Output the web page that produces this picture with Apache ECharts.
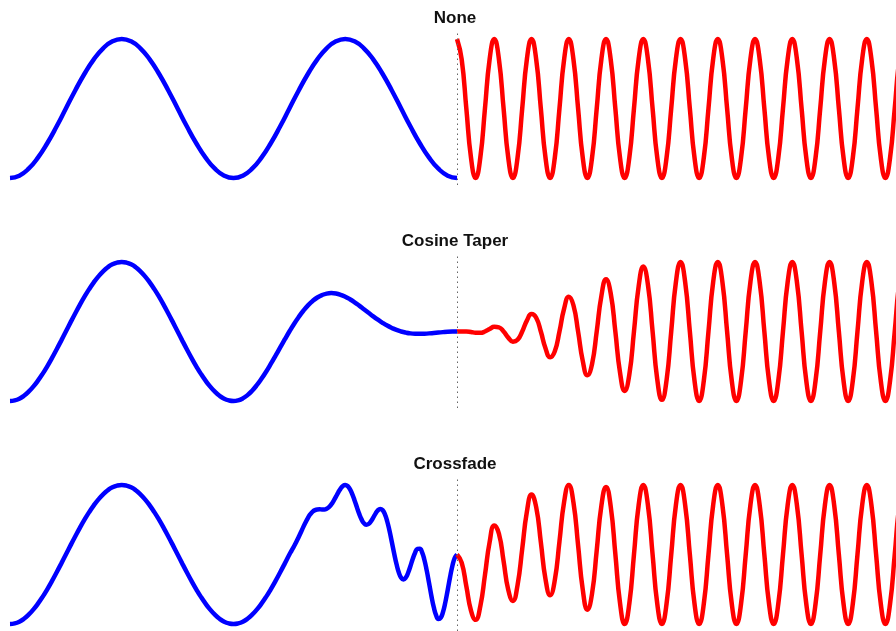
<!DOCTYPE html>
<html>
<head>
<meta charset="utf-8">
<script src="https://cdn.jsdelivr.net/npm/echarts@6/dist/echarts.min.js"></script>
<style>
  html, body { margin: 0; padding: 0; background: #ffffff; }
  #chart { width: 896px; height: 631px; }
</style>
</head>
<body>
<div id="chart"></div>
<script>
// Splice demo: a slow wave (blue) joined at t = 2 to a fast wave (red),
// shown with no blending, a cosine taper, and a linear crossfade.

const panelTitles = ['None', 'Cosine Taper', 'Crossfade'];
const spliceTime = 2;
const blendStart = 1.25;   // where the crossfade begins on the slow side
const coarseStep = 1 / 24;
const fineStep = 1 / 48;
const blendStep = 1 / 96;

// --- None ---
const blueNone = [
  -1, -0.966, -0.866, -0.707, -0.5, -0.259, 0, 0.259, 0.5, 0.707, 0.866, 0.966,
  1, 0.966, 0.866, 0.707, 0.5, 0.259, 0, -0.259, -0.5, -0.707, -0.866, -0.966,
  -1, -0.966, -0.866, -0.707, -0.5, -0.259, 0, 0.259, 0.5, 0.707, 0.866, 0.966,
  1, 0.966, 0.866, 0.707, 0.5, 0.259, 0, -0.259, -0.5, -0.707, -0.866, -0.966,
  -1
];
const redNone = [
  1, 0.707, 0, -0.707, -1, -0.707, 0, 0.707,
  1, 0.707, 0, -0.707, -1, -0.707, 0, 0.707,
  1, 0.707, 0, -0.707, -1, -0.707, 0, 0.707,
  1, 0.707, 0, -0.707, -1, -0.707, 0, 0.707,
  1, 0.707, 0, -0.707, -1, -0.707, 0, 0.707,
  1, 0.707, 0, -0.707, -1, -0.707, 0, 0.707,
  1, 0.707, 0, -0.707, -1, -0.707, 0, 0.707,
  1, 0.707, 0, -0.707, -1, -0.707, 0, 0.707,
  1, 0.707, 0, -0.707, -1, -0.707, 0, 0.707,
  1, 0.707, 0, -0.707, -1, -0.707, 0, 0.707,
  1, 0.707, 0, -0.707, -1, -0.707, 0, 0.707,
  1, 0.707, 0, -0.707, -1, -0.707, 0, 0.707,
  1
];

// --- Cosine Taper ---
const blueTaper = [
  -1, -0.991, -0.966, -0.924, -0.866, -0.793, -0.707, -0.609,
  -0.5, -0.383, -0.259, -0.131, 0, 0.131, 0.259, 0.383,
  0.5, 0.609, 0.707, 0.793, 0.866, 0.924, 0.966, 0.991,
  1, 0.991, 0.966, 0.924, 0.866, 0.793, 0.707, 0.609,
  0.5, 0.383, 0.259, 0.131, 0, -0.131, -0.259, -0.383,
  -0.5, -0.609, -0.707, -0.793, -0.866, -0.924, -0.966, -0.991,
  -1, -0.990, -0.962, -0.915, -0.851, -0.772, -0.680, -0.578,
  -0.467, -0.351, -0.232, -0.115, 0, 0.109, 0.208, 0.298,
  0.375, 0.439, 0.489, 0.524, 0.545, 0.552, 0.546, 0.528,
  0.5, 0.463, 0.420, 0.372, 0.321, 0.269, 0.218, 0.170,
  0.125, 0.085, 0.051, 0.022, 0, -0.016, -0.027, -0.032,
  -0.033, -0.031, -0.027, -0.021, -0.015, -0.009, -0.004, -0.001,
  0
];
const redTaper = [
  0, 0.001, 0, -0.007, -0.017, -0.019, 0, 0.036,
  0.067, 0.060, 0, -0.088, -0.146, -0.120, 0, 0.157,
  0.25, 0.197, 0, -0.240, -0.371, -0.285, 0, 0.330,
  0.5, 0.377, 0, -0.422, -0.629, -0.467, 0, 0.510,
  0.75, 0.550, 0, -0.587, -0.854, -0.619, 0, 0.647,
  0.933, 0.671, 0, -0.688, -0.983, -0.700, 0, 0.706,
  1, 0.707, 0, -0.707, -1, -0.707, 0, 0.707,
  1, 0.707, 0, -0.707, -1, -0.707, 0, 0.707,
  1, 0.707, 0, -0.707, -1, -0.707, 0, 0.707,
  1, 0.707, 0, -0.707, -1, -0.707, 0, 0.707,
  1, 0.707, 0, -0.707, -1, -0.707, 0, 0.707,
  1, 0.707, 0, -0.707, -1, -0.707, 0, 0.707,
  1
];

// --- Crossfade ---
// slow wave alone, t = 0 .. 1.25 (step 1/48)
const blueFadeLead = [
  -1, -0.991, -0.966, -0.924, -0.866, -0.793, -0.707, -0.609,
  -0.5, -0.383, -0.259, -0.131, 0, 0.131, 0.259, 0.383,
  0.5, 0.609, 0.707, 0.793, 0.866, 0.924, 0.966, 0.991,
  1, 0.991, 0.966, 0.924, 0.866, 0.793, 0.707, 0.609,
  0.5, 0.383, 0.259, 0.131, 0, -0.131, -0.259, -0.383,
  -0.5, -0.609, -0.707, -0.793, -0.866, -0.924, -0.966, -0.991,
  -1, -0.991, -0.966, -0.924, -0.866, -0.793, -0.707, -0.609,
  -0.5, -0.383, -0.259, -0.131
];
// blended part, t = 1.25 .. 2 (step 1/96)
const blueFadeBlend = [
  0, 0.059, 0.119, 0.183, 0.252, 0.323, 0.397, 0.465,
  0.528, 0.579, 0.616, 0.638, 0.648, 0.650, 0.647, 0.648,
  0.659, 0.682, 0.720, 0.772, 0.832, 0.894, 0.948, 0.986,
  1.0, 0.985, 0.940, 0.869, 0.778, 0.679, 0.584, 0.505,
  0.451, 0.429, 0.439, 0.476, 0.530, 0.588, 0.635, 0.656,
  0.639, 0.579, 0.478, 0.340, 0.180, 0.014, -0.137, -0.258,
  -0.333, -0.358, -0.331, -0.262, -0.165, -0.062, 0.026, 0.080,
  0.083, 0.030, -0.079, -0.232, -0.412, -0.596, -0.756, -0.872,
  -0.926, -0.909, -0.825, -0.685, -0.510, -0.327, -0.166, -0.050,
  0
];
const redFade = [
  0, -0.118, -0.456, -0.806, -0.940, -0.744, -0.295, 0.177,
  0.417, 0.298, -0.094, -0.507, -0.667, -0.439, 0.079, 0.612,
  0.861, 0.681, 0.177, -0.353, -0.585, -0.367, 0.188, 0.758,
  1, 0.750, 0.134, -0.503, -0.793, -0.561, 0.059, 0.700,
  0.972, 0.694, 0.007, -0.695, -1, -0.707, 0, 0.707,
  1, 0.707, 0, -0.707, -1, -0.707, 0, 0.707,
  1, 0.707, 0, -0.707, -1, -0.707, 0, 0.707,
  1, 0.707, 0, -0.707, -1, -0.707, 0, 0.707,
  1, 0.707, 0, -0.707, -1, -0.707, 0, 0.707,
  1, 0.707, 0, -0.707, -1, -0.707, 0, 0.707,
  1, 0.707, 0, -0.707, -1, -0.707, 0, 0.707,
  1, 0.707, 0, -0.707, -1, -0.707, 0, 0.707,
  1
];

function toPairs(values, start, step) {
  return values.map((v, i) => [start + i * step, v]);
}

const panels = [
  { blue: toPairs(blueNone, 0, coarseStep), red: toPairs(redNone, spliceTime, fineStep) },
  { blue: toPairs(blueTaper, 0, fineStep), red: toPairs(redTaper, spliceTime, fineStep) },
  {
    blue: toPairs(blueFadeLead, 0, fineStep).concat(toPairs(blueFadeBlend, blendStart, blendStep)),
    red: toPairs(redFade, spliceTime, fineStep)
  }
];

// Layout of the three stacked panels
const panelTop = [32, 255, 478];
const panelHeight = 153;
const titleTop = [9.5, 232.5, 455.5];
const plotLeft = 10;
const plotWidth = 886;
const timeMax = 3.964;   // right edge of the visible window

const grids = [], xAxes = [], yAxes = [], series = [], titles = [];

panels.forEach((p, i) => {
  grids.push({ left: plotLeft, width: plotWidth, top: panelTop[i], height: panelHeight, containLabel: false });
  xAxes.push({ type: 'value', gridIndex: i, min: 0, max: timeMax, show: false });
  yAxes.push({ type: 'value', gridIndex: i, min: -1.1, max: 1.1, show: false });
  titles.push({
    text: panelTitles[i],
    left: 455, top: titleTop[i], textAlign: 'center', padding: 0,
    textStyle: { fontFamily: 'Liberation Sans, Arial, sans-serif', fontSize: 17, fontWeight: 'bold', color: '#111' }
  });
  series.push({
    type: 'line', xAxisIndex: i, yAxisIndex: i,
    data: p.blue, smooth: 0.5, showSymbol: false, clip: true,
    lineStyle: { color: '#0000ff', width: 4.5 }, z: 3,
    markLine: {
      silent: true, symbol: ['none', 'none'], label: { show: false },
      lineStyle: { color: '#666', width: 1, type: [1.5, 3.5] },
      data: [{ xAxis: spliceTime }]
    }
  });
  series.push({
    type: 'line', xAxisIndex: i, yAxisIndex: i,
    data: p.red, smooth: 0.5, showSymbol: false, clip: true,
    lineStyle: { color: '#ff0000', width: 4.5 }, z: 3
  });
});

const chart = echarts.init(document.getElementById('chart'), null, { renderer: 'canvas' });
chart.setOption({
  animation: false,
  backgroundColor: '#ffffff',
  title: titles,
  grid: grids,
  xAxis: xAxes,
  yAxis: yAxes,
  series: series
});
</script>
</body>
</html>
